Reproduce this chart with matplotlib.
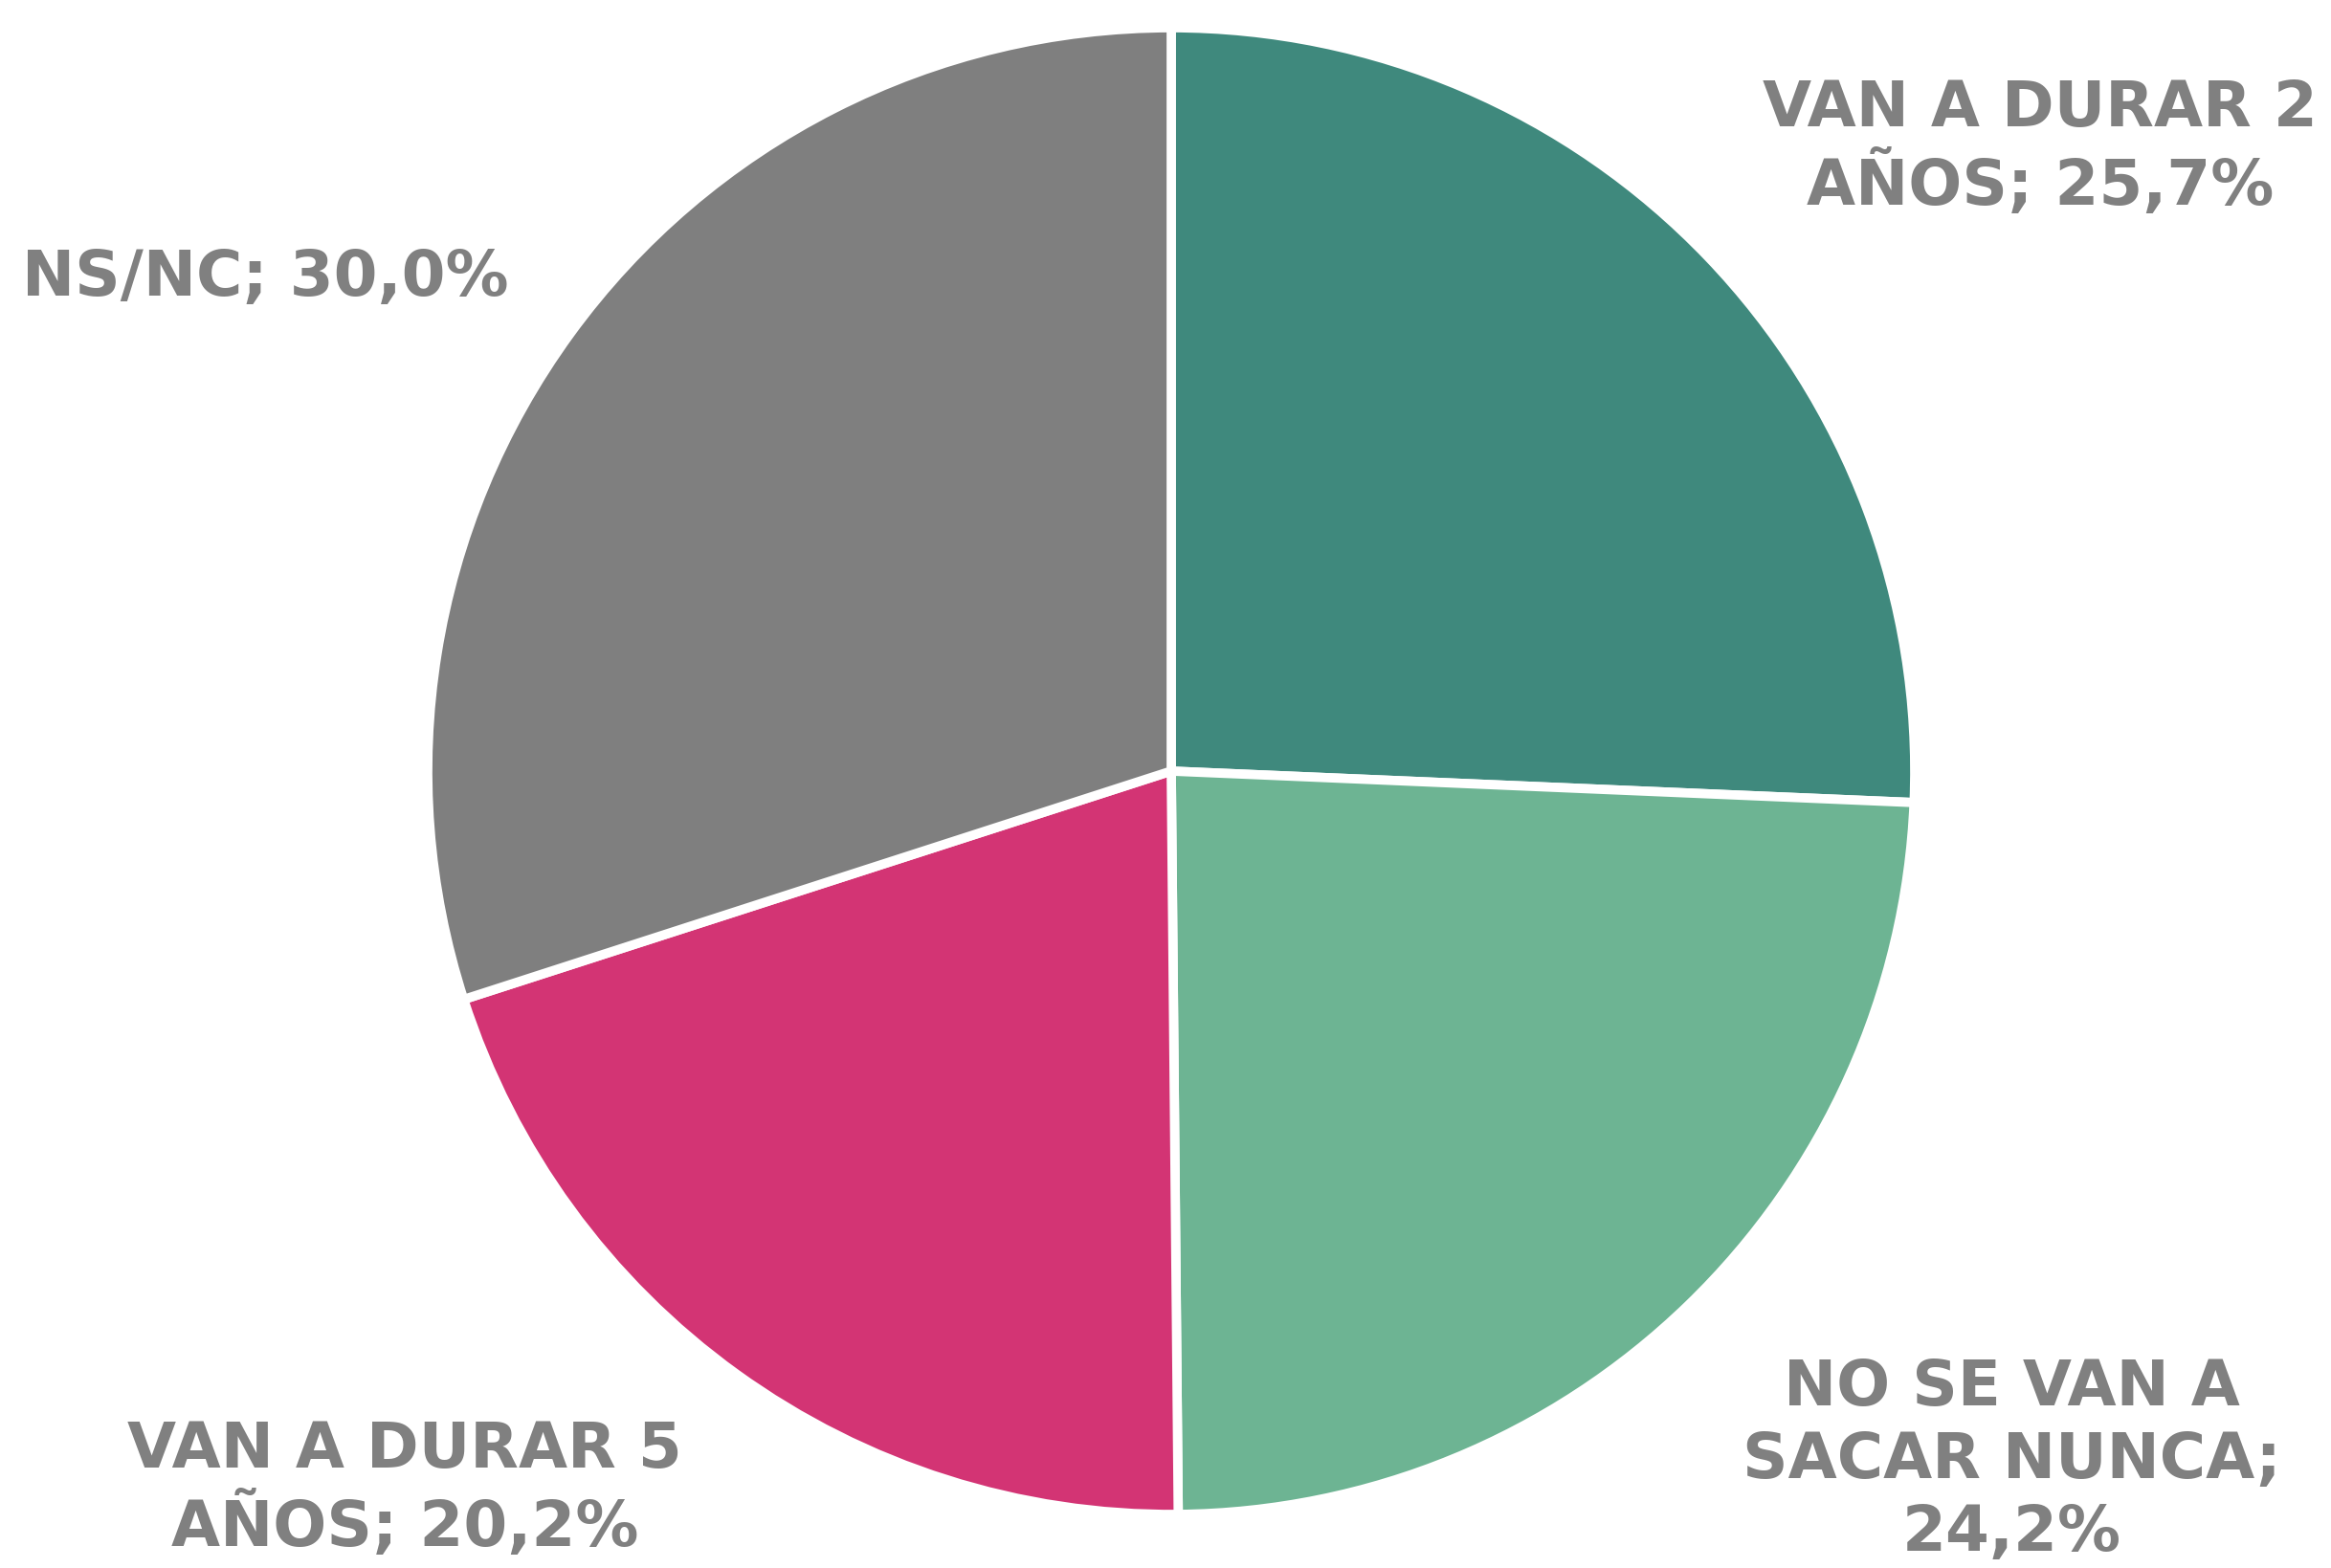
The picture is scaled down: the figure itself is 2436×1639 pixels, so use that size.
import matplotlib.pyplot as plt

# datos
labels = ['VAN A DURAR 2\nAÑOS; 25,7%', 'NO SE VAN A\nSACAR NUNCA;\n24,2%',
          'VAN A DURAR 5\nAÑOS; 20,2%', 'NS/NC; 30,0%']
values = [25.7, 24.2, 20.2, 30.0]
colors = ['#3F897D', '#6DB493', '#D33474', '#7F7F7F']

W, H = 2436, 1639
fig = plt.figure(figsize=(W / 100, H / 100), dpi=100)
ax = fig.add_axes([0, 0, 1, 1])

# pie, clockwise from the top
ax.pie(values, colors=colors, startangle=90, counterclock=False,
       center=(1224, H - 806), radius=777,
       wedgeprops=dict(edgecolor='white', linewidth=7), frame=True)
ax.set_xlim(0, W)
ax.set_ylim(0, H)
ax.set_aspect('equal')
ax.axis('off')

# etiquetas (posicion en pixeles desde arriba)
label_pos = [(2132, 155, 'center'), (2102, 1527, 'center'),
             (423, 1557, 'center'), (23, 291, 'left')]
for text, (x, y, ha) in zip(labels, label_pos):
    ax.text(x, H - y, text, ha=ha, va='center', fontsize=47.5,
            fontweight='bold', color='#808080', family='DejaVu Sans',
            linespacing=1.23, multialignment='center')

fig.savefig('out.png', dpi=100)
